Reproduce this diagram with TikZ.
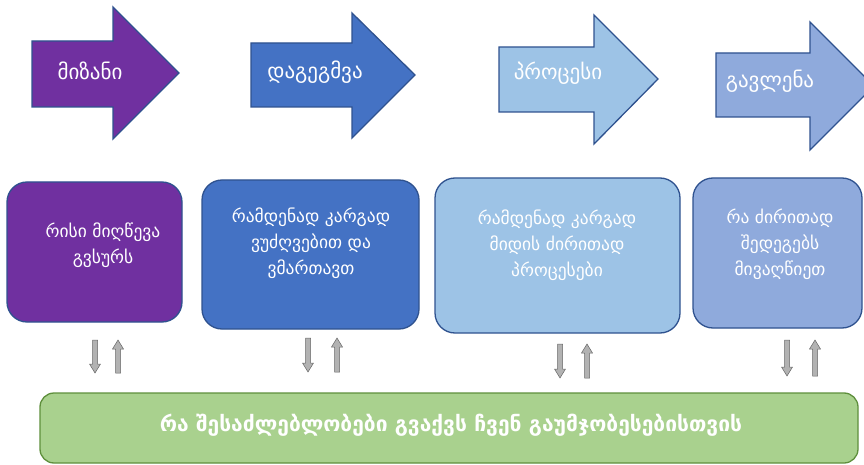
\documentclass[tikz,border=0pt]{standalone}
\usepackage{fontspec}
\setmainfont{DejaVu Sans}
\definecolor{cpurple}{HTML}{7030A0}
\definecolor{cblue}{HTML}{4472C4}
\definecolor{clight}{HTML}{9DC3E6}
\definecolor{cperi}{HTML}{8FAADC}
\definecolor{cgreen}{HTML}{A9D18E}
\definecolor{cborder}{HTML}{2F528F}
\definecolor{gborder}{HTML}{5E8F3C}
\newcommand\downarr[3]{%
  \path[garrow] ({#1-2.5},#2)--({#1+2.5},#2)--({#1+2.5},{#3-9})--({#1+5.5},{#3-9})--(#1,#3)--({#1-5.5},{#3-9})--({#1-2.5},{#3-9})--cycle;}
\newcommand\uparr[3]{%
  \path[garrow] ({#1-2.5},#3)--({#1+2.5},#3)--({#1+2.5},{#2+9})--({#1+5.5},{#2+9})--(#1,#2)--({#1-5.5},{#2+9})--({#1-2.5},{#2+9})--cycle;}
\begin{document}
\begin{tikzpicture}[x=1pt,y=-1pt,
  bigarrow/.style={draw=cborder,line width=1.3pt,line join=miter},
  box/.style={draw=cborder,line width=1.3pt,rounded corners=20pt},
  atext/.style={text=white,font=\fontsize{21}{24}\selectfont},
  btext/.style={text=white,align=center,font=\fontsize{17.5}{26}\selectfont},
  garrow/.style={fill=gray!60,draw=gray!80!black,line width=0.5pt}]
\useasboundingbox (0,0) rectangle (864,465);
\clip (0,0) rectangle (864,465);
% top arrows
\path[bigarrow,fill=cpurple] (32,41)--(113,41)--(113,7)--(179,73)--(113,139)--(113,107)--(32,107)--cycle;
\path[bigarrow,fill=cblue] (251,43)--(352,43)--(352,13)--(415,75)--(352,138)--(352,107)--(251,107)--cycle;
\path[bigarrow,fill=clight] (499,47)--(594,47)--(594,15)--(658,79)--(594,144)--(594,112)--(499,112)--cycle;
\path[bigarrow,fill=cperi] (716,53)--(810,53)--(810,22)--(874,86)--(810,150)--(810,117)--(716,117)--cycle;
\node[atext] (a1) at (90,71) {მიზანი};
\node[atext] (a2) at (315,72) {დაგეგმვა};
\node[atext] (a3) at (558,73) {პროცესი};
\node[atext] (a4) at (770,81) {გავლენა};
% boxes
\draw[box,fill=cpurple] (7,182) rectangle (182,322);
\draw[box,fill=cblue] (202,180) rectangle (419,329);
\draw[box,fill=clight] (435,178) rectangle (680,333);
\draw[box,fill=cperi] (693,178) rectangle (862,328);
\node[btext] (b1) at (103,245) {რისი მიღწევა\\გვსურს};
\node[btext] (b2) at (311,243) {რამდენად კარგად\\ვუძღვებით და\\ვმართავთ};
\node[btext] (b3) at (557,245) {რამდენად კარგად\\მიდის ძირითად\\პროცესები};
\node[btext] (b4) at (780,244) {რა ძირითად\\შედეგებს\\მივაღწიეთ};
% green box
\draw[draw=gborder,line width=1.3pt,fill=cgreen,rounded corners=14pt] (40,393) rectangle (858,463);
\node[text=white,font=\bfseries\fontsize{21}{24}\selectfont] (g) at (451,425) {რა შესაძლებლობები გვაქვს ჩვენ გაუმჯობესებისთვის};
% gray double arrows
\downarr{95}{340}{373}\uparr{118}{340}{373}
\downarr{308}{338}{372}\uparr{337}{338}{372}
\downarr{560}{344}{378}\uparr{587}{344}{378}
\downarr{787}{340}{376}\uparr{815}{340}{376}
\end{tikzpicture}
\end{document}
